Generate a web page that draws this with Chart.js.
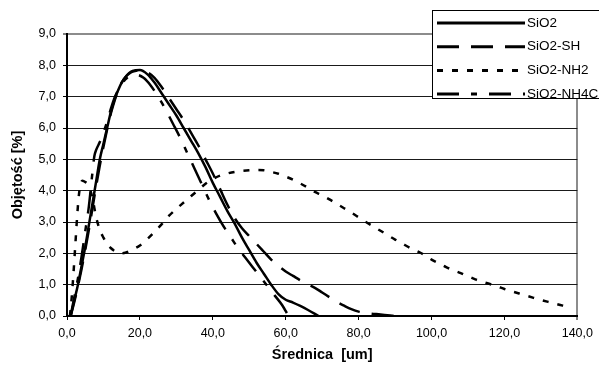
<!DOCTYPE html>
<html>
<head>
<meta charset="utf-8">
<script src="https://cdn.jsdelivr.net/npm/chart.js@4.4.0/dist/chart.umd.min.js"></script>
<style>
  html, body { margin: 0; padding: 0; background: #fff; }
  canvas { display: block; }
</style>
</head>
<body>
<canvas id="sizeChart" width="599" height="369"></canvas>
<script>
// particle size distributions (diameter in um, volume in %)
const sio2Size = [1, 2, 3, 4, 5, 6, 7, 8, 9, 10, 11, 12, 13, 14, 15, 16, 17, 18, 20, 22, 24, 26, 28, 30, 32, 34, 36, 38, 40, 42, 44, 46, 48, 50, 52, 54, 56, 58, 60, 62, 64, 66, 69];
const sio2Vol = [0, 0.5, 1.0, 1.6, 2.2, 2.9, 3.6, 4.3, 5.0, 5.5, 6.0, 6.5, 6.9, 7.2, 7.45, 7.62, 7.75, 7.82, 7.85, 7.72, 7.45, 7.1, 6.75, 6.4, 6.0, 5.6, 5.2, 4.75, 4.25, 3.8, 3.35, 2.95, 2.5, 2.1, 1.7, 1.35, 1.0, 0.7, 0.52, 0.43, 0.32, 0.2, 0];

const shSize = [1, 2, 3, 4, 5, 6, 7, 8, 9, 10, 11, 12, 13, 14, 15, 16, 17, 18, 20, 22, 24, 26, 28, 30, 32, 34, 36, 38, 40, 42, 44, 46, 48, 50, 52, 54, 56, 58, 60, 62, 64, 66, 68, 70, 72, 74, 76, 78, 80, 83, 86, 90];
const shVol = [0, 0.45, 0.95, 1.5, 2.1, 2.75, 3.45, 4.15, 4.8, 5.4, 5.95, 6.45, 6.85, 7.2, 7.45, 7.62, 7.73, 7.8, 7.84, 7.78, 7.6, 7.3, 6.95, 6.6, 6.25, 5.85, 5.45, 5.0, 4.55, 4.05, 3.55, 3.12, 2.8, 2.55, 2.3, 2.05, 1.8, 1.6, 1.42, 1.28, 1.14, 1.02, 0.9, 0.75, 0.6, 0.45, 0.33, 0.22, 0.14, 0.08, 0.05, 0];

const nh2Size = [0.8, 1.3, 1.8, 2.3, 2.8, 3.3, 4.2, 5, 6, 7, 8, 9, 10, 11, 12, 13, 14.5, 16, 18, 20, 22, 24, 26, 28, 30, 32, 34, 36, 38, 40, 42, 44, 46, 48, 50, 52, 54, 56, 58, 60, 62, 64, 66, 68, 70, 72, 74, 76, 78, 80, 82, 84, 86, 88, 90, 92, 94, 96, 98, 100, 102, 104, 106, 108, 110, 112, 114, 116, 118, 120, 124, 128, 132, 136, 137.5];
const nh2Vol = [0, 0.6, 1.4, 2.3, 3.2, 3.9, 4.32, 4.28, 4.15, 3.75, 3.15, 2.75, 2.5, 2.3, 2.17, 2.08, 2.0, 2.02, 2.12, 2.25, 2.45, 2.68, 2.93, 3.2, 3.42, 3.62, 3.82, 4.02, 4.22, 4.37, 4.48, 4.55, 4.6, 4.63, 4.65, 4.66, 4.65, 4.6, 4.54, 4.45, 4.35, 4.23, 4.1, 3.96, 3.85, 3.72, 3.58, 3.44, 3.3, 3.15, 3.0, 2.86, 2.72, 2.58, 2.44, 2.31, 2.18, 2.07, 1.95, 1.8, 1.68, 1.56, 1.46, 1.37, 1.27, 1.17, 1.09, 1.02, 0.95, 0.86, 0.72, 0.58, 0.45, 0.33, 0.28];

const nh4cSize = [1, 2, 3, 4, 5, 6, 7, 7.5, 8, 9, 10, 11, 12, 13, 14, 15, 16, 17, 19, 21, 23, 25, 27, 29, 31, 33, 35, 37, 39, 41, 43, 45, 47, 49, 51, 53, 55, 57, 59, 60.5];
const nh4cVol = [0, 0.6, 1.2, 1.9, 2.7, 3.5, 4.6, 5.1, 5.3, 5.55, 5.85, 6.2, 6.6, 6.95, 7.2, 7.4, 7.55, 7.65, 7.7, 7.6, 7.35, 7.0, 6.6, 6.15, 5.7, 5.2, 4.7, 4.2, 3.7, 3.25, 2.85, 2.5, 2.15, 1.85, 1.55, 1.25, 0.95, 0.65, 0.35, 0.05];

const seriesNames = ['SiO2', 'SiO2-SH', 'SiO2-NH2', 'SiO2-NH4C'];

function toPoints(xs, ys) {
    return xs.map((x, i) => ({ x: x, y: ys[i] }));
}

function fmt(v) {
    return v.toFixed(1).replace('.', ',');
}

// legend box drawn over the top right corner, like the original
const boxLegend = {
    id: 'boxLegend',
    afterDraw(chart) {
        const ctx = chart.ctx;
        ctx.save();
        ctx.fillStyle = '#fff';
        ctx.strokeStyle = '#000';
        ctx.lineWidth = 1;
        ctx.fillRect(432.5, 10.5, 180, 88);
        ctx.strokeRect(432.5, 10.5, 180, 88);
        ctx.font = '13.5px "Liberation Sans", Arial, sans-serif';
        ctx.textBaseline = 'middle';
        chart.data.datasets.forEach((ds, i) => {
            const y = 23 + i * 23.7;
            ctx.beginPath();
            ctx.setLineDash(ds.borderDash || []);
            ctx.lineWidth = 3;
            ctx.strokeStyle = '#000';
            ctx.moveTo(437, y);
            ctx.lineTo(525, y);
            ctx.stroke();
            ctx.setLineDash([]);
            ctx.fillStyle = '#000';
            ctx.fillText(ds.label, 527, y);
        });
        ctx.restore();
    }
};

const ctx = document.getElementById('sizeChart').getContext('2d');
new Chart(ctx, {
    type: 'line',
    data: {
        datasets: [{
            label: seriesNames[0],
            data: toPoints(sio2Size, sio2Vol),
            borderColor: '#000',
            borderWidth: 2.5,
            borderDash: []
        }, {
            label: seriesNames[1],
            data: toPoints(shSize, shVol),
            borderColor: '#000',
            borderWidth: 2.5,
            borderDash: [22, 12]
        }, {
            label: seriesNames[2],
            data: toPoints(nh2Size, nh2Vol),
            borderColor: '#000',
            borderWidth: 2.5,
            borderDash: [6, 9]
        }, {
            label: seriesNames[3],
            data: toPoints(nh4cSize, nh4cVol),
            borderColor: '#000',
            borderWidth: 2.5,
            borderDash: [22, 12, 6, 12]
        }]
    },
    options: {
        responsive: false,
        animation: false,
        devicePixelRatio: 1,
        layout: { padding: { top: 34, right: 18, left: 0, bottom: 0 } },
        plugins: {
            legend: { display: false },
            tooltip: { enabled: false }
        },
        elements: {
            point: { radius: 0 },
            line: { cubicInterpolationMode: 'monotone', borderCapStyle: 'butt', fill: false }
        },
        scales: {
            x: {
                type: 'linear',
                min: 0,
                max: 140,
                afterFit: function(scale) { scale.height = 53; },
                ticks: {
                    stepSize: 20,
                    padding: 6,
                    color: '#000',
                    font: { family: '"Liberation Sans", Arial, sans-serif', size: 12.5 },
                    callback: function(value) { return fmt(value); }
                },
                grid: {
                    color: c => (c.tick && c.tick.value === 140) ? '#8c8c8c' : 'rgba(0,0,0,0)',
                    lineWidth: c => (c.tick && c.tick.value === 140) ? 2 : 1,
                    tickColor: '#000',
                    tickWidth: 1,
                    tickLength: 4
                },
                border: { color: '#000', width: 2 },
                title: {
                    display: true,
                    text: 'Średnica  [um]',
                    color: '#000',
                    padding: { top: 0, bottom: 5 },
                    font: { family: '"Liberation Sans", Arial, sans-serif', size: 14.5, weight: 'bold' }
                }
            },
            y: {
                min: 0,
                max: 9,
                afterFit: function(scale) { scale.width = 67; },
                ticks: {
                    stepSize: 1,
                    padding: 7,
                    color: '#000',
                    font: { family: '"Liberation Sans", Arial, sans-serif', size: 12.5 },
                    callback: function(value) { return fmt(value); }
                },
                grid: {
                    color: c => (c.tick && c.tick.value === 9) ? '#8c8c8c' : '#1a1a1a',
                    lineWidth: c => (c.tick && c.tick.value === 9) ? 2 : 1,
                    tickColor: '#000',
                    tickWidth: 1,
                    tickLength: 4
                },
                border: { color: '#000', width: 2 },
                title: {
                    display: true,
                    text: 'Objętość [%]',
                    color: '#000',
                    padding: { top: 9, bottom: 0 },
                    font: { family: '"Liberation Sans", Arial, sans-serif', size: 14.5, weight: 'bold' }
                }
            }
        }
    },
    plugins: [boxLegend]
});
</script>
</body>
</html>
